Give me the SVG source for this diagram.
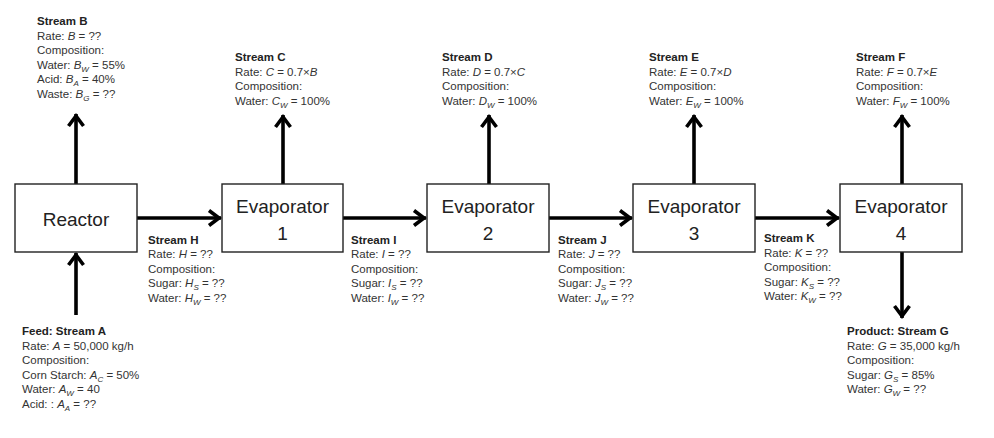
<svg xmlns="http://www.w3.org/2000/svg" width="994" height="438" viewBox="0 0 994 438">
<style>
.box{fill:#fff;stroke:#222;stroke-width:1.4}
.lbl{font-family:"Liberation Sans",Arial,sans-serif;font-size:19px;fill:#222;text-anchor:middle}
.t{font-family:"Liberation Sans",Arial,sans-serif;font-size:11.5px;fill:#333}
.b{font-weight:bold;fill:#222}
.i{font-style:italic}
.s{font-style:italic;font-size:8px}
.ar{stroke:#000;stroke-width:3.6;fill:none}
</style>
<defs>
<marker id="ah" markerUnits="userSpaceOnUse" markerWidth="20" markerHeight="20" viewBox="-14 -10 16 20" refX="0" refY="0" orient="auto">
<path d="M-12,-7.5 L-2,0 L-12,7.5" fill="none" stroke="#000" stroke-width="3.6" stroke-linejoin="miter"/>
</marker>
</defs>
<rect width="994" height="438" fill="#fff"/>
<g id="connectors">
<line class="ar" x1="137" y1="218" x2="221" y2="218" marker-end="url(#ah)"/>
<line class="ar" x1="343" y1="218" x2="426" y2="218" marker-end="url(#ah)"/>
<line class="ar" x1="549" y1="218" x2="632" y2="218" marker-end="url(#ah)"/>
<line class="ar" x1="755" y1="218" x2="839" y2="218" marker-end="url(#ah)"/>
<line class="ar" x1="76" y1="184" x2="76" y2="114" marker-end="url(#ah)"/>
<line class="ar" x1="283" y1="184" x2="283" y2="115" marker-end="url(#ah)"/>
<line class="ar" x1="489" y1="184" x2="489" y2="115" marker-end="url(#ah)"/>
<line class="ar" x1="694" y1="184" x2="694" y2="115" marker-end="url(#ah)"/>
<line class="ar" x1="902" y1="184" x2="902" y2="115" marker-end="url(#ah)"/>
<line class="ar" x1="76" y1="315" x2="76" y2="253" marker-end="url(#ah)"/>
<line class="ar" x1="902" y1="252" x2="902" y2="318" marker-end="url(#ah)"/>
</g>
<g id="reactor"><rect class="box" x="15" y="184" width="122" height="68"/><text class="lbl" x="76" y="226">Reactor</text></g>
<g id="evaporator1"><rect class="box" x="222" y="184" width="121" height="68"/><text class="lbl" x="282.5" y="213">Evaporator</text><text class="lbl" x="282.5" y="240">1</text></g>
<g id="evaporator2"><rect class="box" x="427" y="184" width="122" height="68"/><text class="lbl" x="488" y="213">Evaporator</text><text class="lbl" x="488" y="240">2</text></g>
<g id="evaporator3"><rect class="box" x="633" y="184" width="122" height="68"/><text class="lbl" x="694" y="213">Evaporator</text><text class="lbl" x="694" y="240">3</text></g>
<g id="evaporator4"><rect class="box" x="840" y="184" width="122" height="68"/><text class="lbl" x="901" y="213">Evaporator</text><text class="lbl" x="901" y="240">4</text></g>
<g id="stream-labels">
<g id="streamB">
<text class="t b" x="37" y="25">Stream B</text>
<text class="t" x="37" y="40">Rate: <tspan class="i">B</tspan> = ??</text>
<text class="t" x="37" y="54">Composition:</text>
<text class="t" x="37" y="69">Water: <tspan class="i">B</tspan><tspan class="s" dy="3">W</tspan><tspan dy="-3"> = 55%</tspan></text>
<text class="t" x="37" y="83">Acid: <tspan class="i">B</tspan><tspan class="s" dy="3">A</tspan><tspan dy="-3"> = 40%</tspan></text>
<text class="t" x="37" y="98">Waste: <tspan class="i">B</tspan><tspan class="s" dy="3">G</tspan><tspan dy="-3"> = ??</tspan></text>
</g>
<g id="streamC">
<text class="t b" x="235" y="61">Stream C</text>
<text class="t" x="235" y="76">Rate: <tspan class="i">C</tspan> = 0.7×<tspan class="i">B</tspan></text>
<text class="t" x="235" y="90">Composition:</text>
<text class="t" x="235" y="105">Water: <tspan class="i">C</tspan><tspan class="s" dy="3">W</tspan><tspan dy="-3"> = 100%</tspan></text>
</g>
<g id="streamD">
<text class="t b" x="442" y="61">Stream D</text>
<text class="t" x="442" y="76">Rate: <tspan class="i">D</tspan> = 0.7×<tspan class="i">C</tspan></text>
<text class="t" x="442" y="90">Composition:</text>
<text class="t" x="442" y="105">Water: <tspan class="i">D</tspan><tspan class="s" dy="3">W</tspan><tspan dy="-3"> = 100%</tspan></text>
</g>
<g id="streamE">
<text class="t b" x="649" y="61">Stream E</text>
<text class="t" x="649" y="76">Rate: <tspan class="i">E</tspan> = 0.7×<tspan class="i">D</tspan></text>
<text class="t" x="649" y="90">Composition:</text>
<text class="t" x="649" y="105">Water: <tspan class="i">E</tspan><tspan class="s" dy="3">W</tspan><tspan dy="-3"> = 100%</tspan></text>
</g>
<g id="streamF">
<text class="t b" x="856" y="61">Stream F</text>
<text class="t" x="856" y="76">Rate: <tspan class="i">F</tspan> = 0.7×<tspan class="i">E</tspan></text>
<text class="t" x="856" y="90">Composition:</text>
<text class="t" x="856" y="105">Water: <tspan class="i">F</tspan><tspan class="s" dy="3">W</tspan><tspan dy="-3"> = 100%</tspan></text>
</g>
<g id="streamH">
<text class="t b" x="148" y="244">Stream H</text>
<text class="t" x="148" y="258">Rate: <tspan class="i">H</tspan> = ??</text>
<text class="t" x="148" y="273">Composition:</text>
<text class="t" x="148" y="287">Sugar: <tspan class="i">H</tspan><tspan class="s" dy="3">S</tspan><tspan dy="-3"> = ??</tspan></text>
<text class="t" x="148" y="302">Water: <tspan class="i">H</tspan><tspan class="s" dy="3">W</tspan><tspan dy="-3"> = ??</tspan></text>
</g>
<g id="streamI">
<text class="t b" x="351" y="244">Stream I</text>
<text class="t" x="351" y="258">Rate: <tspan class="i">I</tspan> = ??</text>
<text class="t" x="351" y="273">Composition:</text>
<text class="t" x="351" y="287">Sugar: <tspan class="i">I</tspan><tspan class="s" dy="3">S</tspan><tspan dy="-3"> = ??</tspan></text>
<text class="t" x="351" y="302">Water: <tspan class="i">I</tspan><tspan class="s" dy="3">W</tspan><tspan dy="-3"> = ??</tspan></text>
</g>
<g id="streamJ">
<text class="t b" x="558" y="244">Stream J</text>
<text class="t" x="558" y="258">Rate: <tspan class="i">J</tspan> = ??</text>
<text class="t" x="558" y="273">Composition:</text>
<text class="t" x="558" y="287">Sugar: <tspan class="i">J</tspan><tspan class="s" dy="3">S</tspan><tspan dy="-3"> = ??</tspan></text>
<text class="t" x="558" y="302">Water: <tspan class="i">J</tspan><tspan class="s" dy="3">W</tspan><tspan dy="-3"> = ??</tspan></text>
</g>
<g id="streamK">
<text class="t b" x="764" y="242">Stream K</text>
<text class="t" x="764" y="257">Rate: <tspan class="i">K</tspan> = ??</text>
<text class="t" x="764" y="271">Composition:</text>
<text class="t" x="764" y="286">Sugar: <tspan class="i">K</tspan><tspan class="s" dy="3">S</tspan><tspan dy="-3"> = ??</tspan></text>
<text class="t" x="764" y="300">Water: <tspan class="i">K</tspan><tspan class="s" dy="3">W</tspan><tspan dy="-3"> = ??</tspan></text>
</g>
<g id="streamA">
<text class="t b" x="22" y="335">Feed: Stream A</text>
<text class="t" x="22" y="350">Rate: <tspan class="i">A</tspan> = 50,000 kg/h</text>
<text class="t" x="22" y="364">Composition:</text>
<text class="t" x="22" y="379">Corn Starch: <tspan class="i">A</tspan><tspan class="s" dy="3">C</tspan><tspan dy="-3"> = 50%</tspan></text>
<text class="t" x="22" y="393">Water: <tspan class="i">A</tspan><tspan class="s" dy="3">W</tspan><tspan dy="-3"> = 40</tspan></text>
<text class="t" x="22" y="408">Acid: : <tspan class="i">A</tspan><tspan class="s" dy="3">A</tspan><tspan dy="-3"> = ??</tspan></text>
</g>
<g id="streamG">
<text class="t b" x="847" y="335">Product: Stream G</text>
<text class="t" x="847" y="350">Rate: <tspan class="i">G</tspan> = 35,000 kg/h</text>
<text class="t" x="847" y="364">Composition:</text>
<text class="t" x="847" y="379">Sugar: <tspan class="i">G</tspan><tspan class="s" dy="3">S</tspan><tspan dy="-3"> = 85%</tspan></text>
<text class="t" x="847" y="393">Water: <tspan class="i">G</tspan><tspan class="s" dy="3">W</tspan><tspan dy="-3"> = ??</tspan></text>
</g>
</g>
</svg>
